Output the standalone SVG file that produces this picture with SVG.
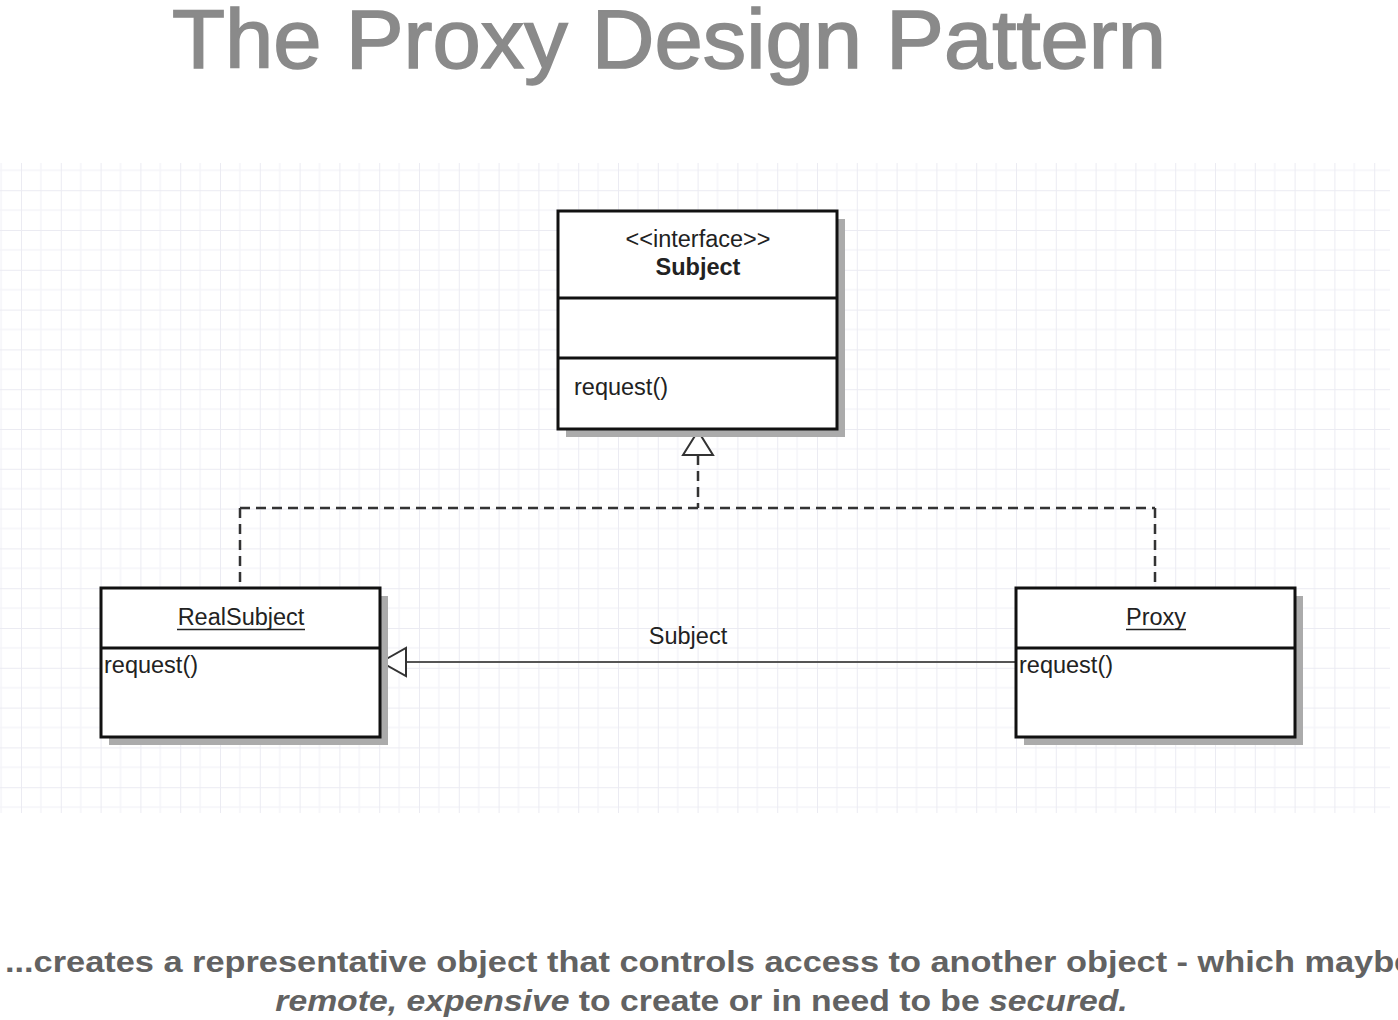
<svg xmlns="http://www.w3.org/2000/svg" width="1398" height="1020" viewBox="0 0 1398 1020">
<defs>
<style>
.box{fill:#fff;stroke:#111;stroke-width:3}
.sh{fill:#ababab}
.div{stroke:#111;stroke-width:3}
.t{font-family:"Liberation Sans",Arial,sans-serif;font-size:23.5px;fill:#222}
.dash{fill:none;stroke:#333;stroke-width:2.5;stroke-dasharray:10 6}
.assoc{fill:none;stroke:#555;stroke-width:2.2}
.tri{fill:#fff;stroke:#333;stroke-width:2}
.ul{stroke:#222;stroke-width:1.5}
</style>
<pattern id="grid" x="21" y="190.2" width="39.8" height="39.8" patternUnits="userSpaceOnUse">
<path d="M19.9 0V39.8M0 19.9H39.8" stroke="#f5f5f9" stroke-width="1.5" fill="none"/>
<path d="M0 0V39.8M0 0H39.8" stroke="#ebebf2" stroke-width="2" fill="none"/>
</pattern>
</defs>
<rect width="1398" height="1020" fill="#fff"/>
<rect x="0" y="163" width="1390" height="650" fill="url(#grid)"/>
<text x="669" y="68" text-anchor="middle" font-family="'Liberation Sans',Arial,sans-serif" font-size="83" fill="#8a8a8a" stroke="#8a8a8a" stroke-width="1.6" textLength="994" lengthAdjust="spacingAndGlyphs">The Proxy Design Pattern</text>
<g id="connectors">
<path class="dash" d="M698 455V508M240 508H1155M240 508V588M1155 508V588"/>
<polygon class="tri" points="698,431 683,455 713,455"/>
<path class="assoc" d="M1016 662H406"/>
<polygon class="tri" points="381,662 406,648 406,676"/>
<text class="t" x="688" y="644" text-anchor="middle">Subject</text>
</g>
<g id="subject">
<rect class="sh" x="566" y="219" width="279" height="218"/>
<rect class="box" x="558" y="211" width="279" height="218"/>
<path class="div" d="M558 298H837M558 358H837"/>
<text class="t" x="698" y="247" text-anchor="middle">&lt;&lt;interface&gt;&gt;</text>
<text class="t" x="698" y="275" text-anchor="middle" font-weight="bold">Subject</text>
<text class="t" x="574" y="395">request()</text>
</g>
<g id="realsubject">
<rect class="sh" x="109" y="596" width="279" height="149"/>
<rect class="box" x="101" y="588" width="279" height="149"/>
<path class="div" d="M101 648H380"/>
<text class="t" x="241" y="625" text-anchor="middle">RealSubject</text>
<path class="ul" d="M177 629.5H305"/>
<text class="t" x="104" y="673">request()</text>
</g>
<g id="proxy">
<rect class="sh" x="1024" y="596" width="279" height="149"/>
<rect class="box" x="1016" y="588" width="279" height="149"/>
<path class="div" d="M1016 648H1295"/>
<text class="t" x="1156" y="625" text-anchor="middle">Proxy</text>
<path class="ul" d="M1126 629.5H1186"/>
<text class="t" x="1019" y="673">request()</text>
</g>
<g font-family="'Liberation Sans',Arial,sans-serif" font-weight="bold" font-size="30" fill="#626262">
<text transform="translate(5,972) scale(1.145,1)">...creates a representative object that controls access to another object - which maybe</text>
<text transform="translate(701.5,1011) scale(1.124,1)" text-anchor="middle"><tspan font-style="italic">remote, expensive</tspan> to create or in need to be <tspan font-style="italic">secured.</tspan></text>
</g>
</svg>
